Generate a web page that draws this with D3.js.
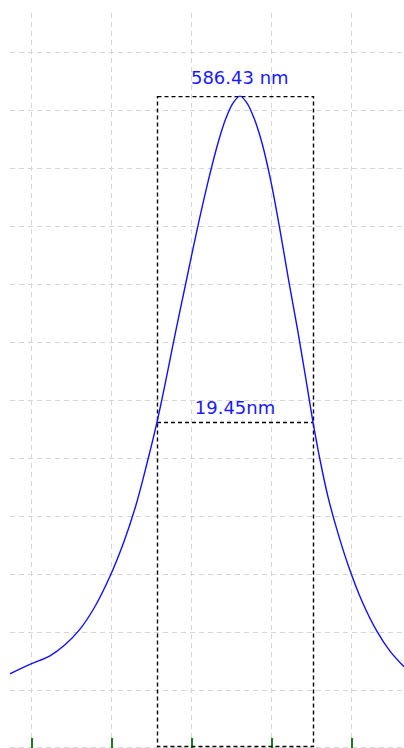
<!DOCTYPE html>
<html>
<head>
<meta charset="utf-8">
<script src="https://cdn.jsdelivr.net/npm/d3@7"></script>
<style>
html,body{margin:0;padding:0;background:#fff;overflow:hidden;}
svg{display:block;}
</style>
</head>
<body>
<svg id="chart" width="404" height="748"></svg>
<script>
// Wavelength (nm) and intensity (arbitrary units)
const wavelengths = [557.375, 560.0, 562.375, 564.25, 566.125, 568.0, 569.875, 571.625, 573.125, 574.5, 575.75, 576.875, 578.125, 579.375, 580.75, 582.125, 583.375, 584.375, 585.25, 586.125, 587.0, 587.875, 588.875, 590.0, 591.125, 592.25, 593.375, 594.375, 595.25, 596.125, 597.125, 598.25, 599.625, 601.375, 603.25, 604.875, 606.625];
const intensities = [1.28, 1.45, 1.59, 1.78, 2.05, 2.44, 2.96, 3.56, 4.19, 4.91, 5.62, 6.35, 7.21, 8.03, 8.93, 9.76, 10.43, 10.86, 11.12, 11.24, 11.12, 10.86, 10.43, 9.76, 8.93, 8.03, 7.17, 6.35, 5.62, 4.97, 4.33, 3.76, 3.16, 2.53, 2.01, 1.67, 1.40];
const xTicks = [560, 570, 580, 590, 600];
const yTicks = [0, 1, 2, 3, 4, 5, 6, 7, 8, 9, 10, 11, 12];
const peakWavelength = 586.1;
const peakIntensity = 11.24;
const fwhmLeft = 575.75;
const fwhmRight = 595.25;
const peakLabel = "586.43 nm";
const fwhmLabel = "19.45nm";

const W = 404, H = 748;
const svg = d3.select("#chart");

const x = d3.scaleLinear().domain([560, 600]).range([31, 351]);
const y = d3.scaleLinear().domain([0, 12]).range([748, 52]);

const plotLeft = 10, plotTop = 13;

svg.append("defs").append("clipPath").attr("id", "clip")
  .append("rect").attr("x", plotLeft).attr("y", plotTop)
  .attr("width", W - plotLeft).attr("height", H - plotTop);

const g = svg.append("g").attr("clip-path", "url(#clip)");

// grid
g.append("g").selectAll("line").data(yTicks).join("line")
  .attr("x1", plotLeft).attr("x2", W)
  .attr("y1", d => Math.min(y(d) + 0.5, H - 0.5))
  .attr("y2", d => Math.min(y(d) + 0.5, H - 0.5))
  .attr("stroke", "#d6d6d6").attr("stroke-width", 1)
  .attr("stroke-dasharray", "5,4").attr("shape-rendering", "crispEdges");

g.append("g").selectAll("line").data(xTicks).join("line")
  .attr("x1", d => x(d) + 0.5).attr("x2", d => x(d) + 0.5)
  .attr("y1", plotTop).attr("y2", H)
  .attr("stroke", "#d6d6d6").attr("stroke-width", 1)
  .attr("stroke-dasharray", "5,4").attr("shape-rendering", "crispEdges");

// green ticks at bottom
g.append("g").selectAll("line").data(xTicks).join("line")
  .attr("x1", d => x(d) + 0.5).attr("x2", d => x(d) + 0.5)
  .attr("y1", H - 10).attr("y2", H)
  .attr("stroke", "#1d7d1d").attr("stroke-width", 2)
  .attr("shape-rendering", "crispEdges");

// FWHM rectangle
g.append("rect")
  .attr("x", x(fwhmLeft) + 0.5).attr("y", y(peakIntensity) + 0.5)
  .attr("width", x(fwhmRight) - x(fwhmLeft))
  .attr("height", y(0) - y(peakIntensity) - 2)
  .attr("fill", "none").attr("stroke", "#000").attr("stroke-width", 1.4)
  .attr("stroke-dasharray", "4,3");

g.append("line")
  .attr("x1", x(fwhmLeft)).attr("x2", x(fwhmRight))
  .attr("y1", y(peakIntensity / 2) + 0.5).attr("y2", y(peakIntensity / 2) + 0.5)
  .attr("stroke", "#000").attr("stroke-width", 1.4)
  .attr("stroke-dasharray", "4,3");

// curve
const pts = wavelengths.map((w, i) => [w, intensities[i]]);
const line = d3.line().x(d => x(d[0])).y(d => y(d[1])).curve(d3.curveCatmullRom.alpha(0.5));
g.append("path").datum(pts)
  .attr("d", line)
  .attr("fill", "none").attr("stroke", "#1010ff").attr("stroke-width", 1.4);

// labels
svg.append("text")
  .attr("x", x(peakWavelength)).attr("y", y(peakIntensity) - 12)
  .attr("text-anchor", "middle")
  .attr("font-family", "DejaVu Sans, sans-serif").attr("font-size", 18)
  .attr("fill", "#1a1aff").text(peakLabel);

svg.append("text")
  .attr("x", (x(fwhmLeft) + x(fwhmRight)) / 2).attr("y", y(peakIntensity / 2) - 8)
  .attr("text-anchor", "middle")
  .attr("font-family", "DejaVu Sans, sans-serif").attr("font-size", 18)
  .attr("fill", "#1a1aff").text(fwhmLabel);
</script>
</body>
</html>
